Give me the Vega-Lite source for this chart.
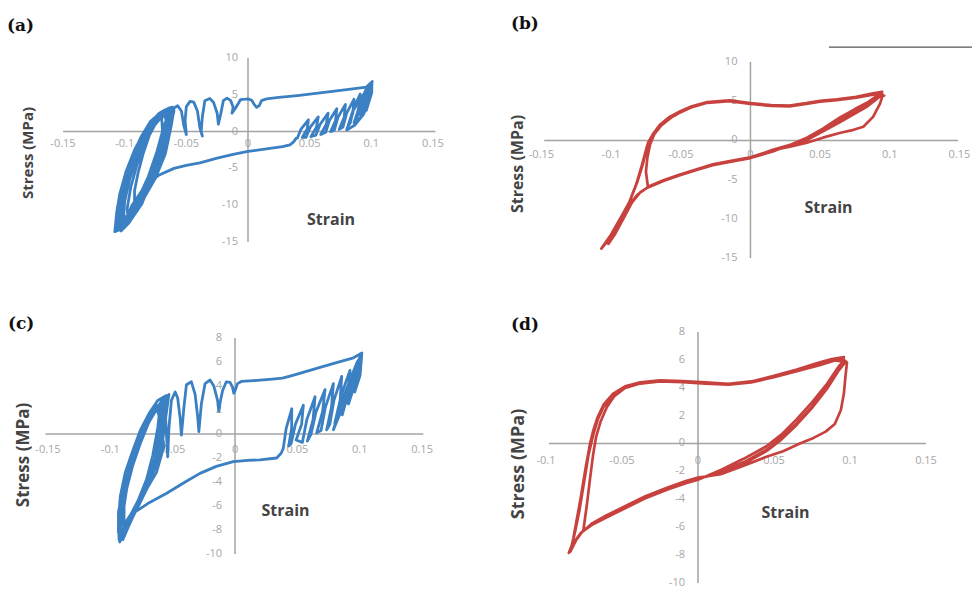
{
"$schema":"https://vega.github.io/schema/vega-lite/v6.json",
"padding":0,
"background":"white",
"config":{"view":{"stroke":null},"axis":{"disable":true}},
"datasets":{
"xt":[{"v":-0.15,"t":"-0.15"},{"v":-0.1,"t":"-0.1"},{"v":-0.05,"t":"-0.05"},{"v":0,"t":"0"},{"v":0.05,"t":"0.05"},{"v":0.1,"t":"0.1"},{"v":0.15,"t":"0.15"}],
"xtd":[{"v":-0.1,"t":"-0.1"},{"v":-0.05,"t":"-0.05"},{"v":0,"t":"0"},{"v":0.05,"t":"0.05"},{"v":0.1,"t":"0.1"},{"v":0.15,"t":"0.15"}],
"yt15":[{"v":-15,"t":"-15"},{"v":-10,"t":"-10"},{"v":-5,"t":"-5"},{"v":0,"t":"0"},{"v":5,"t":"5"},{"v":10,"t":"10"}],
"yt8":[{"v":-10,"t":"-10"},{"v":-8,"t":"-8"},{"v":-6,"t":"-6"},{"v":-4,"t":"-4"},{"v":-2,"t":"-2"},{"v":0,"t":"0"},{"v":2,"t":"2"},{"v":4,"t":"4"},{"v":6,"t":"6"},{"v":8,"t":"8"}],
"a":[{"x":-0.072,"y":-5.9},{"x":-0.06,"y":-5.0},{"x":-0.05,"y":-4.6},{"x":-0.039,"y":-4.25},{"x":-0.025,"y":-3.6},{"x":-0.012,"y":-3.1},{"x":0,"y":-2.7},{"x":0.015,"y":-2.35},{"x":0.028,"y":-2.05},{"x":0.034,"y":-1.8},{"x":0.037,"y":-1.4},{"x":0.039,"y":-0.9},
{"x":0.04,"y":-0.9},{"x":0.043,"y":0.35},{"x":0.049,"y":1.6},{"x":0.048,"y":0.35},{"x":0.044,"y":-0.8},
{"x":0.047,"y":-0.8},{"x":0.0505,"y":0.6},{"x":0.057,"y":2.0},{"x":0.0555,"y":0.6},{"x":0.051,"y":-0.7},
{"x":0.055,"y":-0.5},{"x":0.0585,"y":1.0},{"x":0.065,"y":2.5},{"x":0.0635,"y":1.0},{"x":0.059,"y":-0.4},
{"x":0.063,"y":-0.1},{"x":0.066,"y":1.5},{"x":0.072,"y":3.1},{"x":0.071,"y":1.5},{"x":0.067,"y":0.0},
{"x":0.07,"y":0.2},{"x":0.073,"y":1.95},{"x":0.079,"y":3.7},{"x":0.078,"y":1.95},{"x":0.074,"y":0.3},
{"x":0.077,"y":0.6},{"x":0.08,"y":2.5},{"x":0.086,"y":4.4},{"x":0.085,"y":2.5},{"x":0.081,"y":0.7},
{"x":0.083,"y":1.2},{"x":0.0856,"y":3.15},{"x":0.091,"y":5.1},{"x":0.0904,"y":3.15},{"x":0.087,"y":1.3},
{"x":0.088,"y":2.0},{"x":0.0906,"y":3.9},{"x":0.096,"y":5.8},{"x":0.0954,"y":3.9},{"x":0.092,"y":2.1},
{"x":0.092,"y":2.8},{"x":0.0942,"y":4.55},{"x":0.099,"y":6.3},{"x":0.0989,"y":4.55},{"x":0.096,"y":2.9},
{"x":0.095,"y":3.8},{"x":0.0965,"y":5.25},{"x":0.1005,"y":6.7},{"x":0.1003,"y":5.25},{"x":0.098,"y":4.0},
{"x":0.1,"y":6.4},{"x":0.0976,"y":3.8},{"x":0.0935,"y":2.3},{"x":0.0868,"y":0.9},{"x":0.08,"y":0.2},{"x":0.085,"y":2.8},{"x":0.092,"y":4.6},{"x":0.097,"y":5.9},{"x":0.1,"y":6.5},{"x":0.0995,"y":5.0},{"x":0.096,"y":3.3},{"x":0.091,"y":1.9},{"x":0.086,"y":1.2},{"x":0.09,"y":3.2},{"x":0.095,"y":5.0},{"x":0.0995,"y":6.4},{"x":0.0985,"y":4.6},{"x":0.094,"y":3.0},{"x":0.089,"y":2.2},{"x":0.093,"y":3.8},{"x":0.098,"y":5.6},{"x":0.1,"y":6.2},{"x":0.0975,"y":4.4},{"x":0.096,"y":4.8},{"x":0.1008,"y":6.8},
{"x":0.096,"y":6.05},{"x":0.08,"y":5.7},{"x":0.06,"y":5.3},{"x":0.04,"y":4.9},{"x":0.025,"y":4.65},{"x":0.015,"y":4.45},{"x":0.011,"y":4.2},{"x":0.009,"y":3.5},{"x":0.007,"y":3.3},{"x":0.005,"y":3.7},{"x":0.003,"y":4.25},{"x":0,"y":4.45},{"x":-0.002,"y":4.4},
{"x":-0.006,"y":4.35},{"x":-0.01,"y":3.2},{"x":-0.013,"y":2.5},{"x":-0.012,"y":3.3},{"x":-0.014,"y":4.2},{"x":-0.017,"y":4.55},{"x":-0.02,"y":4.2},{"x":-0.022,"y":2.5},{"x":-0.024,"y":1.0},{"x":-0.025,"y":2.5},{"x":-0.028,"y":4.0},{"x":-0.031,"y":4.5},{"x":-0.035,"y":4.2},{"x":-0.037,"y":2.0},{"x":-0.038,"y":0.0},{"x":-0.037,"y":-0.6},{"x":-0.039,"y":0.5},{"x":-0.041,"y":2.8},{"x":-0.044,"y":4.0},{"x":-0.047,"y":4.1},{"x":-0.05,"y":3.4},{"x":-0.051,"y":1.5},{"x":-0.05,"y":-0.4},{"x":-0.052,"y":0.8},{"x":-0.054,"y":2.8},{"x":-0.057,"y":3.5},{"x":-0.06,"y":3.2},
{"x":-0.062,"y":1.0},{"x":-0.067,"y":-3.0},{"x":-0.075,"y":-6.3},{"x":-0.086,"y":-9.5},{"x":-0.097,"y":-12.2},{"x":-0.105,"y":-13.4},{"x":-0.108,"y":-13.6},{"x":-0.1065,"y":-11.0},{"x":-0.104,"y":-8.5},{"x":-0.099,"y":-5.5},{"x":-0.092,"y":-2.5},{"x":-0.085,"y":-0.3},{"x":-0.077,"y":1.6},{"x":-0.068,"y":2.8},{"x":-0.061,"y":3.3},
{"x":-0.063,"y":2.0},{"x":-0.069,"y":-2.0},{"x":-0.078,"y":-6.0},{"x":-0.089,"y":-9.8},{"x":-0.099,"y":-12.4},{"x":-0.104,"y":-12.8},{"x":-0.103,"y":-10.5},{"x":-0.099,"y":-7.5},{"x":-0.093,"y":-4.2},{"x":-0.086,"y":-1.2},{"x":-0.078,"y":1.2},{"x":-0.07,"y":2.5},{"x":-0.063,"y":2.9},
{"x":-0.065,"y":1.5},{"x":-0.071,"y":-1.8},{"x":-0.08,"y":-5.8},{"x":-0.09,"y":-9.5},{"x":-0.098,"y":-11.5},{"x":-0.101,"y":-11.8},{"x":-0.1,"y":-9.5},{"x":-0.096,"y":-6.5},{"x":-0.09,"y":-3.5},{"x":-0.083,"y":-0.8},{"x":-0.075,"y":1.5},{"x":-0.067,"y":2.6},
{"x":-0.066,"y":1.0},{"x":-0.072,"y":-2.5},{"x":-0.08,"y":-6.5},{"x":-0.089,"y":-10.0},{"x":-0.096,"y":-12.3},{"x":-0.1,"y":-12.6},{"x":-0.101,"y":-10.0},{"x":-0.098,"y":-7.0},{"x":-0.093,"y":-4.0},{"x":-0.086,"y":-1.0},{"x":-0.078,"y":1.3},{"x":-0.07,"y":2.4},{"x":-0.064,"y":2.6},
{"x":-0.068,"y":0.8},{"x":-0.074,"y":-2.8},{"x":-0.081,"y":-6.2},{"x":-0.088,"y":-9.0},{"x":-0.092,"y":-10.0},{"x":-0.092,"y":-8.0},{"x":-0.089,"y":-5.5},{"x":-0.085,"y":-3.0},{"x":-0.08,"y":-0.5},{"x":-0.074,"y":1.4},{"x":-0.068,"y":2.2},
{"x":-0.066,"y":1.5},{"x":-0.07,"y":-1.0},{"x":-0.076,"y":-4.5},{"x":-0.084,"y":-8.0},{"x":-0.094,"y":-11.5},{"x":-0.102,"y":-13.0},{"x":-0.106,"y":-13.3},{"x":-0.1055,"y":-11.0},{"x":-0.102,"y":-8.0},{"x":-0.096,"y":-4.8},{"x":-0.089,"y":-1.8},{"x":-0.081,"y":0.6},{"x":-0.073,"y":2.2},{"x":-0.066,"y":3.0},
{"x":-0.063,"y":2.5},{"x":-0.066,"y":0.0},{"x":-0.071,"y":-3.5},{"x":-0.079,"y":-7.2},{"x":-0.09,"y":-10.8},{"x":-0.099,"y":-12.8},{"x":-0.104,"y":-13.2},{"x":-0.1045,"y":-11.5},{"x":-0.101,"y":-8.8},{"x":-0.097,"y":-6.0},{"x":-0.091,"y":-3.0},{"x":-0.084,"y":-0.3},{"x":-0.076,"y":1.8},{"x":-0.068,"y":2.9},{"x":-0.062,"y":3.3},
{"x":-0.06,"y":2.8},{"x":-0.064,"y":0.0},{"x":-0.07,"y":-3.5},{"x":-0.078,"y":-6.8},{"x":-0.088,"y":-10.0},{"x":-0.097,"y":-12.5},{"x":-0.103,"y":-13.5},{"x":-0.106,"y":-12.5},{"x":-0.105,"y":-10.0},{"x":-0.101,"y":-7.0},{"x":-0.095,"y":-4.0},{"x":-0.088,"y":-1.2},{"x":-0.08,"y":1.0},{"x":-0.072,"y":2.5},{"x":-0.064,"y":3.2},
{"x":-0.067,"y":0.5},{"x":-0.073,"y":-3.0},{"x":-0.082,"y":-7.0},{"x":-0.091,"y":-10.5},{"x":-0.097,"y":-12.0},{"x":-0.098,"y":-10.5},{"x":-0.095,"y":-7.5},{"x":-0.09,"y":-4.5},{"x":-0.084,"y":-1.8},{"x":-0.077,"y":0.6},{"x":-0.07,"y":2.0},
{"x":-0.069,"y":-1.0},{"x":-0.077,"y":-5.0},{"x":-0.085,"y":-8.5},{"x":-0.094,"y":-11.5},{"x":-0.099,"y":-12.8},{"x":-0.102,"y":-12.0},{"x":-0.1015,"y":-9.5},{"x":-0.097,"y":-6.2},{"x":-0.091,"y":-3.2},{"x":-0.083,"y":-0.5},{"x":-0.075,"y":1.5},{"x":-0.067,"y":2.7},
{"x":-0.062,"y":2.0},{"x":-0.068,"y":-1.5},{"x":-0.076,"y":-5.5},{"x":-0.086,"y":-9.8},{"x":-0.095,"y":-12.0},{"x":-0.1,"y":-13.0},{"x":-0.104,"y":-12.2},{"x":-0.103,"y":-9.5},{"x":-0.1,"y":-6.5},{"x":-0.094,"y":-3.5},{"x":-0.087,"y":-0.8},{"x":-0.079,"y":1.4},{"x":-0.07,"y":2.7},{"x":-0.063,"y":3.0},
{"x":-0.064,"y":1.5},{"x":-0.069,"y":-1.5},{"x":-0.074,"y":-4.5},{"x":-0.08,"y":-7.5},{"x":-0.09,"y":-10.5},{"x":-0.098,"y":-12.0},{"x":-0.1,"y":-12.3},{"x":-0.094,"y":-10.0},{"x":-0.086,"y":-8.0},{"x":-0.079,"y":-6.8},{"x":-0.072,"y":-5.9}],
"b":[{"x":0,"y":-2.2},{"x":0.016,"y":-1.2},{"x":0.0405,"y":0.05},{"x":0.064,"y":2.3},{"x":0.084,"y":4.35},{"x":0.093,"y":5.6},{"x":0.0945,"y":6.2},
{"x":0.088,"y":6.0},{"x":0.076,"y":5.55},{"x":0.062,"y":5.25},{"x":0.05,"y":5.05},{"x":0.04,"y":4.75},{"x":0.028,"y":4.45},{"x":0.015,"y":4.5},{"x":0,"y":4.75},{"x":-0.015,"y":5.1},{"x":-0.031,"y":4.9},{"x":-0.042,"y":4.35},{"x":-0.05,"y":3.75},{"x":-0.058,"y":3.0},{"x":-0.065,"y":2.0},{"x":-0.07,"y":0.8},{"x":-0.0735,"y":-0.3},{"x":-0.077,"y":-2.9},{"x":-0.081,"y":-5.2},{"x":-0.0865,"y":-7.7},{"x":-0.092,"y":-9.5},{"x":-0.1,"y":-12.0},{"x":-0.107,"y":-13.8},
{"x":-0.1,"y":-12.3},{"x":-0.093,"y":-10.2},{"x":-0.087,"y":-8.2},{"x":-0.081,"y":-6.9},{"x":-0.0736,"y":-5.95},{"x":-0.062,"y":-5.1},{"x":-0.0506,"y":-4.4},{"x":-0.038,"y":-3.7},{"x":-0.027,"y":-3.1},{"x":-0.012,"y":-2.6},{"x":0,"y":-2.2},{"x":0.016,"y":-1.3},{"x":0.03,"y":-0.6},{"x":0.0405,"y":0.1},{"x":0.052,"y":1.2},{"x":0.064,"y":2.6},{"x":0.075,"y":3.6},{"x":0.0836,"y":4.5},{"x":0.092,"y":5.6},{"x":0.096,"y":5.7},
{"x":0.09,"y":5.9},{"x":0.076,"y":5.45},{"x":0.062,"y":5.15},{"x":0.05,"y":4.95},{"x":0.04,"y":4.65},{"x":0.028,"y":4.35},{"x":0.015,"y":4.4},{"x":0,"y":4.65},{"x":-0.015,"y":5.0},{"x":-0.031,"y":4.8},{"x":-0.042,"y":4.25},{"x":-0.05,"y":3.6},{"x":-0.057,"y":2.9},{"x":-0.064,"y":1.9},{"x":-0.069,"y":0.8},{"x":-0.072,"y":-0.5},{"x":-0.074,"y":-2.2},{"x":-0.075,"y":-4.0},{"x":-0.0736,"y":-5.9},
{"x":-0.062,"y":-5.05},{"x":-0.0506,"y":-4.35},{"x":-0.038,"y":-3.65},{"x":-0.027,"y":-3.05},{"x":-0.012,"y":-2.55},{"x":0,"y":-2.15},{"x":0.016,"y":-1.25},{"x":0.03,"y":-0.75},{"x":0.0405,"y":-0.3},{"x":0.052,"y":0.35},{"x":0.064,"y":0.95},{"x":0.074,"y":1.35},{"x":0.081,"y":1.75},{"x":0.088,"y":3.0},{"x":0.093,"y":4.7},{"x":0.095,"y":5.8},{"x":0.0935,"y":6.1},
{"x":0.088,"y":5.95},{"x":0.076,"y":5.5},{"x":0.062,"y":5.2},{"x":0.05,"y":5.0},{"x":0.04,"y":4.7},{"x":0.028,"y":4.4},{"x":0.015,"y":4.45},{"x":0,"y":4.7},{"x":-0.015,"y":5.05},{"x":-0.031,"y":4.85},{"x":-0.042,"y":4.3},{"x":-0.05,"y":3.7},{"x":-0.058,"y":2.95},{"x":-0.065,"y":1.95},{"x":-0.07,"y":0.7},{"x":-0.074,"y":-0.6},{"x":-0.078,"y":-3.2},{"x":-0.082,"y":-5.6},{"x":-0.087,"y":-7.9},{"x":-0.093,"y":-10.0},{"x":-0.098,"y":-11.8},{"x":-0.102,"y":-13.2},
{"x":-0.097,"y":-11.9},{"x":-0.091,"y":-9.9},{"x":-0.085,"y":-7.9},{"x":-0.079,"y":-6.6},{"x":-0.0736,"y":-6.0},{"x":-0.062,"y":-5.15},{"x":-0.0506,"y":-4.45},{"x":-0.038,"y":-3.75},{"x":-0.027,"y":-3.15},{"x":-0.012,"y":-2.65},{"x":0,"y":-2.25},{"x":0.016,"y":-1.4},{"x":0.03,"y":-0.45},{"x":0.0405,"y":0.35},{"x":0.052,"y":1.5},{"x":0.064,"y":2.9},{"x":0.075,"y":4.0},{"x":0.0836,"y":4.8},{"x":0.091,"y":5.7}],
"c":[{"x":-0.092,"y":-8.9},{"x":-0.088,"y":-7.4},{"x":-0.0816,"y":-6.6},{"x":-0.07,"y":-5.8},{"x":-0.0548,"y":-4.94},{"x":-0.04,"y":-4.0},{"x":-0.0281,"y":-3.28},{"x":-0.015,"y":-2.7},{"x":-0.0014,"y":-2.3},{"x":0.01,"y":-2.2},{"x":0.02,"y":-2.15},{"x":0.0334,"y":-2.0},{"x":0.037,"y":-1.6},{"x":0.0387,"y":-1.2},
{"x":0.041,"y":0.45},{"x":0.0455,"y":2.1},{"x":0.0454,"y":0.45},{"x":0.043,"y":-1.0},
{"x":0.045,"y":-0.8},{"x":0.0484,"y":0.8},{"x":0.0548,"y":2.4},{"x":0.0534,"y":0.8},{"x":0.049,"y":-0.5},
{"x":0.054,"y":-0.7},{"x":0.0576,"y":1.2},{"x":0.0642,"y":3.1},{"x":0.0626,"y":1.2},{"x":0.058,"y":-0.6},
{"x":0.061,"y":0.0},{"x":0.065,"y":1.85},{"x":0.0722,"y":3.7},{"x":0.0702,"y":1.85},{"x":0.0655,"y":0.1},
{"x":0.069,"y":0.3},{"x":0.0725,"y":2.25},{"x":0.0789,"y":4.2},{"x":0.0774,"y":2.25},{"x":0.0735,"y":0.35},
{"x":0.076,"y":0.8},{"x":0.0793,"y":2.8},{"x":0.0856,"y":4.8},{"x":0.0843,"y":2.8},{"x":0.08,"y":0.9},
{"x":0.082,"y":1.4},{"x":0.0856,"y":3.35},{"x":0.0922,"y":5.3},{"x":0.0906,"y":3.35},{"x":0.086,"y":1.6},
{"x":0.087,"y":2.2},{"x":0.0908,"y":4.05},{"x":0.0976,"y":5.9},{"x":0.0958,"y":4.05},{"x":0.091,"y":2.5},
{"x":0.092,"y":3.2},{"x":0.0953,"y":4.9},{"x":0.1016,"y":6.6},{"x":0.1003,"y":4.9},{"x":0.096,"y":3.5},
{"x":0.1005,"y":6.4},{"x":0.1003,"y":5.3},{"x":0.0922,"y":3.4},{"x":0.0842,"y":1.7},{"x":0.0789,"y":0.35},{"x":0.086,"y":2.8},{"x":0.093,"y":4.7},{"x":0.098,"y":6.0},{"x":0.1012,"y":6.5},{"x":0.1,"y":5.0},{"x":0.095,"y":3.8},{"x":0.089,"y":2.6},{"x":0.084,"y":1.9},{"x":0.09,"y":3.6},{"x":0.096,"y":5.3},{"x":0.1005,"y":6.5},{"x":0.0995,"y":5.2},{"x":0.094,"y":3.9},{"x":0.088,"y":2.9},{"x":0.093,"y":4.4},{"x":0.0985,"y":6.0},{"x":0.1,"y":6.2},{"x":0.0975,"y":4.8},{"x":0.098,"y":5.5},{"x":0.1018,"y":6.75},
{"x":0.095,"y":6.35},{"x":0.08,"y":5.9},{"x":0.06,"y":5.3},{"x":0.045,"y":4.85},{"x":0.038,"y":4.65},{"x":0.03,"y":4.58},{"x":0.015,"y":4.45},{"x":0.005,"y":4.38},{"x":0.002,"y":4.2},{"x":0,"y":3.6},{"x":-0.001,"y":3.4},{"x":-0.002,"y":3.9},{"x":-0.004,"y":4.3},
{"x":-0.007,"y":4.35},{"x":-0.01,"y":3.6},{"x":-0.012,"y":2.6},{"x":-0.013,"y":1.9},{"x":-0.014,"y":2.8},{"x":-0.017,"y":4.0},{"x":-0.02,"y":4.5},{"x":-0.024,"y":4.2},{"x":-0.027,"y":2.5},{"x":-0.029,"y":0.2},{"x":-0.03,"y":1.5},{"x":-0.032,"y":3.3},{"x":-0.035,"y":4.35},{"x":-0.039,"y":4.1},{"x":-0.041,"y":2.2},{"x":-0.043,"y":-0.1},{"x":-0.044,"y":1.3},{"x":-0.046,"y":3.0},{"x":-0.048,"y":3.5},{"x":-0.051,"y":2.8},{"x":-0.053,"y":0.5},{"x":-0.054,"y":-1.9},{"x":-0.055,"y":0.0},{"x":-0.056,"y":2.0},{"x":-0.058,"y":2.6},{"x":-0.061,"y":1.8},
{"x":-0.057,"y":-1.0},{"x":-0.063,"y":-3.2},{"x":-0.071,"y":-4.6},{"x":-0.079,"y":-6.0},{"x":-0.086,"y":-7.5},{"x":-0.091,"y":-8.7},{"x":-0.0925,"y":-9.0},{"x":-0.093,"y":-7.5},{"x":-0.091,"y":-5.5},{"x":-0.087,"y":-3.8},{"x":-0.081,"y":-2.0},{"x":-0.075,"y":-0.3},{"x":-0.068,"y":1.2},{"x":-0.06,"y":2.5},{"x":-0.053,"y":3.3},
{"x":-0.055,"y":1.8},{"x":-0.058,"y":-0.5},{"x":-0.064,"y":-2.8},{"x":-0.072,"y":-4.6},{"x":-0.081,"y":-6.3},{"x":-0.088,"y":-7.4},{"x":-0.091,"y":-7.6},{"x":-0.091,"y":-6.2},{"x":-0.088,"y":-4.4},{"x":-0.083,"y":-2.4},{"x":-0.077,"y":-0.6},{"x":-0.07,"y":1.0},{"x":-0.063,"y":2.2},{"x":-0.057,"y":2.7},
{"x":-0.059,"y":1.0},{"x":-0.062,"y":-1.2},{"x":-0.067,"y":-3.2},{"x":-0.075,"y":-5.2},{"x":-0.083,"y":-7.0},{"x":-0.089,"y":-8.3},{"x":-0.092,"y":-8.5},{"x":-0.0925,"y":-7.0},{"x":-0.09,"y":-5.0},{"x":-0.085,"y":-3.0},{"x":-0.079,"y":-1.2},{"x":-0.072,"y":0.6},{"x":-0.065,"y":1.8},{"x":-0.06,"y":2.3},
{"x":-0.062,"y":0.5},{"x":-0.066,"y":-1.8},{"x":-0.071,"y":-3.8},{"x":-0.078,"y":-5.6},{"x":-0.085,"y":-7.0},{"x":-0.089,"y":-7.6},{"x":-0.089,"y":-6.0},{"x":-0.086,"y":-4.0},{"x":-0.081,"y":-2.0},{"x":-0.075,"y":0.0},{"x":-0.068,"y":1.5},{"x":-0.062,"y":2.0},
{"x":-0.057,"y":1.5},{"x":-0.06,"y":-0.8},{"x":-0.065,"y":-2.8},{"x":-0.073,"y":-4.8},{"x":-0.082,"y":-6.8},{"x":-0.089,"y":-8.2},{"x":-0.093,"y":-8.8},{"x":-0.0935,"y":-7.2},{"x":-0.092,"y":-5.2},{"x":-0.088,"y":-3.2},{"x":-0.082,"y":-1.4},{"x":-0.076,"y":0.3},{"x":-0.069,"y":1.7},{"x":-0.062,"y":2.8},{"x":-0.055,"y":3.2},
{"x":-0.056,"y":0.8},{"x":-0.06,"y":-1.5},{"x":-0.067,"y":-3.6},{"x":-0.076,"y":-5.6},{"x":-0.085,"y":-7.6},{"x":-0.09,"y":-8.8},{"x":-0.0935,"y":-8.2},{"x":-0.0935,"y":-6.5},{"x":-0.09,"y":-4.8},{"x":-0.085,"y":-3.0},{"x":-0.079,"y":-1.2},{"x":-0.072,"y":0.5},{"x":-0.064,"y":2.0},{"x":-0.057,"y":3.0},
{"x":-0.06,"y":0.6},{"x":-0.064,"y":-2.0},{"x":-0.07,"y":-4.0},{"x":-0.079,"y":-6.0},{"x":-0.087,"y":-7.8},{"x":-0.091,"y":-8.4},{"x":-0.092,"y":-6.8},{"x":-0.089,"y":-5.0},{"x":-0.084,"y":-3.0},{"x":-0.078,"y":-1.0},{"x":-0.07,"y":1.0},{"x":-0.063,"y":2.4},
{"x":-0.058,"y":0.2},{"x":-0.063,"y":-2.4},{"x":-0.069,"y":-4.2},{"x":-0.077,"y":-5.9},{"x":-0.084,"y":-7.3},{"x":-0.088,"y":-7.9},{"x":-0.09,"y":-6.6},{"x":-0.087,"y":-4.6},{"x":-0.082,"y":-2.6},{"x":-0.076,"y":-0.8},{"x":-0.069,"y":1.0},{"x":-0.061,"y":2.4},{"x":-0.054,"y":3.0},
{"x":-0.058,"y":1.0},{"x":-0.061,"y":-1.0},{"x":-0.066,"y":-3.0},{"x":-0.073,"y":-4.8},{"x":-0.08,"y":-6.2},{"x":-0.087,"y":-7.6},{"x":-0.091,"y":-8.6},{"x":-0.092,"y":-8.9}],
"d":[{"x":0,"y":-2.55},{"x":0.015,"y":-2.05},{"x":0.03,"y":-1.35},{"x":0.045,"y":-0.45},{"x":0.055,"y":0.4},{"x":0.065,"y":1.45},{"x":0.075,"y":2.65},{"x":0.085,"y":4.0},{"x":0.092,"y":5.2},{"x":0.096,"y":6.2},
{"x":0.088,"y":6.05},{"x":0.078,"y":5.75},{"x":0.065,"y":5.3},{"x":0.05,"y":4.85},{"x":0.035,"y":4.45},{"x":0.02,"y":4.28},{"x":0.005,"y":4.38},{"x":-0.01,"y":4.48},{"x":-0.025,"y":4.52},{"x":-0.038,"y":4.38},{"x":-0.048,"y":4.1},{"x":-0.056,"y":3.55},{"x":-0.062,"y":2.8},{"x":-0.066,"y":1.9},{"x":-0.069,"y":0.9},{"x":-0.071,"y":0.0},{"x":-0.074,"y":-1.8},{"x":-0.077,"y":-3.8},{"x":-0.08,"y":-5.6},{"x":-0.082,"y":-6.8},{"x":-0.084,"y":-7.75},
{"x":-0.08,"y":-6.9},{"x":-0.076,"y":-6.3},{"x":-0.07,"y":-5.8},{"x":-0.06,"y":-5.25},{"x":-0.048,"y":-4.6},{"x":-0.035,"y":-3.9},{"x":-0.02,"y":-3.25},{"x":-0.008,"y":-2.8},{"x":0,"y":-2.5},{"x":0.015,"y":-2.15},{"x":0.03,"y":-1.45},{"x":0.045,"y":-0.55},{"x":0.055,"y":0.3},{"x":0.065,"y":1.35},{"x":0.075,"y":2.55},{"x":0.085,"y":3.95},{"x":0.092,"y":5.15},{"x":0.097,"y":5.85},
{"x":0.09,"y":5.95},{"x":0.08,"y":5.62},{"x":0.065,"y":5.18},{"x":0.05,"y":4.75},{"x":0.035,"y":4.38},{"x":0.02,"y":4.22},{"x":0.005,"y":4.3},{"x":-0.01,"y":4.4},{"x":-0.025,"y":4.45},{"x":-0.038,"y":4.3},{"x":-0.048,"y":3.98},{"x":-0.055,"y":3.4},{"x":-0.06,"y":2.6},{"x":-0.064,"y":1.6},{"x":-0.067,"y":0.5},{"x":-0.069,"y":-0.8},{"x":-0.071,"y":-2.5},{"x":-0.073,"y":-4.3},{"x":-0.0755,"y":-6.3},
{"x":-0.07,"y":-5.75},{"x":-0.06,"y":-5.15},{"x":-0.048,"y":-4.5},{"x":-0.035,"y":-3.8},{"x":-0.02,"y":-3.15},{"x":-0.008,"y":-2.7},{"x":0,"y":-2.45},{"x":0.015,"y":-2.2},{"x":0.03,"y":-1.6},{"x":0.045,"y":-0.95},{"x":0.056,"y":-0.55},{"x":0.067,"y":0.0},{"x":0.076,"y":0.4},{"x":0.084,"y":0.85},{"x":0.09,"y":1.4},{"x":0.094,"y":2.4},{"x":0.096,"y":3.6},{"x":0.097,"y":4.8},{"x":0.098,"y":5.8},{"x":0.095,"y":6.1},
{"x":0.088,"y":6.0},{"x":0.078,"y":5.7},{"x":0.065,"y":5.25},{"x":0.05,"y":4.8},{"x":0.035,"y":4.42},{"x":0.02,"y":4.25},{"x":0.005,"y":4.35},{"x":-0.01,"y":4.45},{"x":-0.025,"y":4.5},{"x":-0.038,"y":4.35},{"x":-0.048,"y":4.05},{"x":-0.056,"y":3.45},{"x":-0.062,"y":2.65},{"x":-0.066,"y":1.7},{"x":-0.069,"y":0.6},{"x":-0.072,"y":-0.8},{"x":-0.075,"y":-2.8},{"x":-0.078,"y":-4.8},{"x":-0.081,"y":-6.4},{"x":-0.083,"y":-7.3},{"x":-0.085,"y":-7.85},
{"x":-0.081,"y":-7.0},{"x":-0.077,"y":-6.4},{"x":-0.07,"y":-5.85},{"x":-0.06,"y":-5.3},{"x":-0.048,"y":-4.65},{"x":-0.035,"y":-3.95},{"x":-0.02,"y":-3.3},{"x":-0.008,"y":-2.85},{"x":0,"y":-2.6},{"x":0.015,"y":-1.9},{"x":0.03,"y":-1.1},{"x":0.045,"y":-0.2},{"x":0.055,"y":0.65},{"x":0.065,"y":1.75},{"x":0.075,"y":2.95},{"x":0.085,"y":4.3},{"x":0.093,"y":5.6}]
},
"columns":2,
"spacing":0,
"bounds":"flush",
"concat":[
 {"width":486,"height":294,"layer":[
  {"data":{"values":[{"x1":-0.15,"x2":0.152,"y":0}]},"mark":{"type":"rule","color":"#a3a3a3","strokeWidth":1.5},
   "encoding":{"x":{"field":"x1","type":"quantitative","title":null,"scale":{"domain":[-0.2011,0.193],"nice":false,"zero":false}},"x2":{"field":"x2"},
   "y":{"field":"y","type":"quantitative","title":null,"scale":{"domain":[-22.07,17.88],"nice":false,"zero":false}}}},
  {"data":{"values":[{"x":0,"y1":-15,"y2":10}]},"mark":{"type":"rule","color":"#a3a3a3","strokeWidth":1.5},
   "encoding":{"x":{"field":"x","type":"quantitative","title":null},"y":{"field":"y1","type":"quantitative","title":null},"y2":{"field":"y2"}}},
  {"data":{"name":"xt"},"mark":{"type":"text","font":"Open Sans","fontSize":11,"color":"#a6a6a6","align":"center","baseline":"middle","dy":12.6},
   "encoding":{"x":{"field":"v","type":"quantitative"},"y":{"datum":0,"type":"quantitative"},"text":{"field":"t"}}},
  {"data":{"name":"yt15"},"mark":{"type":"text","font":"Open Sans","fontSize":11,"color":"#a6a6a6","align":"right","baseline":"middle","dx":-10},
   "encoding":{"x":{"datum":0,"type":"quantitative"},"y":{"field":"v","type":"quantitative"},"text":{"field":"t"}}},
  {"data":{"name":"a"},"mark":{"type":"line","color":"#3b80c2","strokeWidth":2.8,"strokeJoin":"round","strokeCap":"round"},
   "encoding":{"x":{"field":"x","type":"quantitative","title":null},"y":{"field":"y","type":"quantitative","title":null},"order":{"value":null}}},
  {"data":{"values":[{}]},"mark":{"type":"text","text":"(a)","font":"DejaVu Serif","fontWeight":"bold","fontSize":17,"align":"left","baseline":"middle","color":"#111"},
   "encoding":{"x":{"datum":-0.1954,"type":"quantitative"},"y":{"datum":14.35,"type":"quantitative"}}},
  {"data":{"values":[{}]},"mark":{"type":"text","text":"Stress (MPa)","font":"Open Sans","fontWeight":"bold","fontSize":15,"angle":270,"align":"center","baseline":"middle","color":"#444"},
   "encoding":{"x":{"datum":-0.1784,"type":"quantitative"},"y":{"datum":-2.91,"type":"quantitative"}}},
  {"data":{"values":[{}]},"mark":{"type":"text","text":"Strain","font":"Open Sans","fontWeight":"bold","fontSize":16,"align":"center","baseline":"middle","color":"#444"},
   "encoding":{"x":{"datum":0.0673,"type":"quantitative"},"y":{"datum":-12.01,"type":"quantitative"}}}
 ]},
 {"width":486,"height":294,"layer":[
  {"data":{"values":[{"x1":-0.148,"x2":0.149,"y":0}]},"mark":{"type":"rule","color":"#a3a3a3","strokeWidth":1.5},
   "encoding":{"x":{"field":"x1","type":"quantitative","title":null,"scale":{"domain":[-0.1898,0.159],"nice":false,"zero":false}},"x2":{"field":"x2"},
   "y":{"field":"y","type":"quantitative","title":null,"scale":{"domain":[-19.59,17.91],"nice":false,"zero":false}}}},
  {"data":{"values":[{"x":0,"y1":-15,"y2":10}]},"mark":{"type":"rule","color":"#a3a3a3","strokeWidth":1.5},
   "encoding":{"x":{"field":"x","type":"quantitative","title":null},"y":{"field":"y1","type":"quantitative","title":null},"y2":{"field":"y2"}}},
  {"data":{"values":[{"x1":0.0563,"x2":0.159,"y":11.91}]},"mark":{"type":"rule","color":"#555","strokeWidth":1.2},
   "encoding":{"x":{"field":"x1","type":"quantitative","title":null},"x2":{"field":"x2"},"y":{"field":"y","type":"quantitative","title":null}}},
  {"data":{"name":"xt"},"mark":{"type":"text","font":"Open Sans","fontSize":11,"color":"#a6a6a6","align":"center","baseline":"middle","dy":15},
   "encoding":{"x":{"field":"v","type":"quantitative"},"y":{"datum":0,"type":"quantitative"},"text":{"field":"t"}}},
  {"data":{"name":"yt15"},"mark":{"type":"text","font":"Open Sans","fontSize":11,"color":"#a6a6a6","align":"right","baseline":"middle","dx":-13},
   "encoding":{"x":{"datum":0,"type":"quantitative"},"y":{"field":"v","type":"quantitative"},"text":{"field":"t"}}},
  {"data":{"name":"b"},"mark":{"type":"line","color":"#c7423e","strokeWidth":2.7,"strokeJoin":"round","strokeCap":"round"},
   "encoding":{"x":{"field":"x","type":"quantitative","title":null},"y":{"field":"y","type":"quantitative","title":null},"order":{"value":null}}},
  {"data":{"values":[{}]},"mark":{"type":"text","text":"(b)","font":"DejaVu Serif","fontWeight":"bold","fontSize":17,"align":"left","baseline":"middle","color":"#111"},
   "encoding":{"x":{"datum":-0.1719,"type":"quantitative"},"y":{"datum":14.91,"type":"quantitative"}}},
  {"data":{"values":[{}]},"mark":{"type":"text","text":"Stress (MPa)","font":"Open Sans","fontWeight":"bold","fontSize":16,"angle":270,"align":"center","baseline":"middle","color":"#444"},
   "encoding":{"x":{"datum":-0.1669,"type":"quantitative"},"y":{"datum":-3.01,"type":"quantitative"}}},
  {"data":{"values":[{}]},"mark":{"type":"text","text":"Strain","font":"Open Sans","fontWeight":"bold","fontSize":16,"align":"center","baseline":"middle","color":"#444"},
   "encoding":{"x":{"datum":0.056,"type":"quantitative"},"y":{"datum":-8.62,"type":"quantitative"}}}
 ]},
 {"width":486,"height":295,"layer":[
  {"data":{"values":[{"x1":-0.152,"x2":0.151,"y":0}]},"mark":{"type":"rule","color":"#a3a3a3","strokeWidth":1.5},
   "encoding":{"x":{"field":"x1","type":"quantitative","title":null,"scale":{"domain":[-0.1885,0.2013],"nice":false,"zero":false}},"x2":{"field":"x2"},
   "y":{"field":"y","type":"quantitative","title":null,"scale":{"domain":[-12.917,11.667],"nice":false,"zero":false}}}},
  {"data":{"values":[{"x":0,"y1":-10,"y2":8}]},"mark":{"type":"rule","color":"#a3a3a3","strokeWidth":1.5},
   "encoding":{"x":{"field":"x","type":"quantitative","title":null},"y":{"field":"y1","type":"quantitative","title":null},"y2":{"field":"y2"}}},
  {"data":{"name":"xt"},"mark":{"type":"text","font":"Open Sans","fontSize":11,"color":"#a6a6a6","align":"center","baseline":"middle","dy":16},
   "encoding":{"x":{"field":"v","type":"quantitative"},"y":{"datum":0,"type":"quantitative"},"text":{"field":"t"}}},
  {"data":{"name":"yt8"},"mark":{"type":"text","font":"Open Sans","fontSize":11,"color":"#a6a6a6","align":"right","baseline":"middle","dx":-13},
   "encoding":{"x":{"datum":0,"type":"quantitative"},"y":{"field":"v","type":"quantitative"},"text":{"field":"t"}}},
  {"data":{"name":"c"},"mark":{"type":"line","color":"#3b80c2","strokeWidth":2.8,"strokeJoin":"round","strokeCap":"round"},
   "encoding":{"x":{"field":"x","type":"quantitative","title":null},"y":{"field":"y","type":"quantitative","title":null},"order":{"value":null}}},
  {"data":{"values":[{}]},"mark":{"type":"text","text":"(c)","font":"DejaVu Serif","fontWeight":"bold","fontSize":17,"align":"left","baseline":"middle","color":"#111"},
   "encoding":{"x":{"datum":-0.1821,"type":"quantitative"},"y":{"datum":9.17,"type":"quantitative"}}},
  {"data":{"values":[{}]},"mark":{"type":"text","text":"Stress (MPa)","font":"Open Sans","fontWeight":"bold","fontSize":17,"angle":270,"align":"center","baseline":"middle","color":"#444"},
   "encoding":{"x":{"datum":-0.1692,"type":"quantitative"},"y":{"datum":-1.75,"type":"quantitative"}}},
  {"data":{"values":[{}]},"mark":{"type":"text","text":"Strain","font":"Open Sans","fontWeight":"bold","fontSize":16,"align":"center","baseline":"middle","color":"#444"},
   "encoding":{"x":{"datum":0.0405,"type":"quantitative"},"y":{"datum":-6.39,"type":"quantitative"}}}
 ]},
 {"width":486,"height":295,"layer":[
  {"data":{"values":[{"x1":-0.098,"x2":0.15,"y":0}]},"mark":{"type":"rule","color":"#a3a3a3","strokeWidth":1.5},
   "encoding":{"x":{"field":"x1","type":"quantitative","title":null,"scale":{"domain":[-0.13947,0.18026],"nice":false,"zero":false}},"x2":{"field":"x2"},
   "y":{"field":"y","type":"quantitative","title":null,"scale":{"domain":[-10.435,10.721],"nice":false,"zero":false}}}},
  {"data":{"values":[{"x":0,"y1":-10,"y2":8}]},"mark":{"type":"rule","color":"#a3a3a3","strokeWidth":1.5},
   "encoding":{"x":{"field":"x","type":"quantitative","title":null},"y":{"field":"y1","type":"quantitative","title":null},"y2":{"field":"y2"}}},
  {"data":{"name":"xtd"},"mark":{"type":"text","font":"Open Sans","fontSize":11,"color":"#a6a6a6","align":"center","baseline":"middle","dy":18},
   "encoding":{"x":{"field":"v","type":"quantitative"},"y":{"datum":0,"type":"quantitative"},"text":{"field":"t"}}},
  {"data":{"name":"yt8"},"mark":{"type":"text","font":"Open Sans","fontSize":11,"color":"#a6a6a6","align":"right","baseline":"middle","dx":-13},
   "encoding":{"x":{"datum":0,"type":"quantitative"},"y":{"field":"v","type":"quantitative"},"text":{"field":"t"}}},
  {"data":{"name":"d"},"mark":{"type":"line","color":"#c7423e","strokeWidth":2.7,"strokeJoin":"round","strokeCap":"round"},
   "encoding":{"x":{"field":"x","type":"quantitative","title":null},"y":{"field":"y","type":"quantitative","title":null},"order":{"value":null}}},
  {"data":{"values":[{}]},"mark":{"type":"text","text":"(d)","font":"DejaVu Serif","fontWeight":"bold","fontSize":17,"align":"left","baseline":"middle","color":"#111"},
   "encoding":{"x":{"datum":-0.123,"type":"quantitative"},"y":{"datum":8.5,"type":"quantitative"}}},
  {"data":{"values":[{}]},"mark":{"type":"text","text":"Stress (MPa)","font":"Open Sans","fontWeight":"bold","fontSize":18,"angle":270,"align":"center","baseline":"middle","color":"#444"},
   "encoding":{"x":{"datum":-0.1178,"type":"quantitative"},"y":{"datum":-1.47,"type":"quantitative"}}},
  {"data":{"values":[{}]},"mark":{"type":"text","text":"Strain","font":"Open Sans","fontWeight":"bold","fontSize":16,"align":"center","baseline":"middle","color":"#444"},
   "encoding":{"x":{"datum":0.0576,"type":"quantitative"},"y":{"datum":-4.98,"type":"quantitative"}}}
 ]}
]
}
